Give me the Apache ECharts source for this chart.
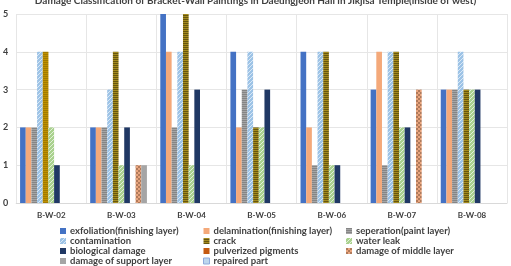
<!DOCTYPE html>
<html lang="en">
<head>
    <meta charset="UTF-8">
    <title>Damage Classification</title>
    <style>
        *{ margin: 0; padding: 0;}
        body{ background: #fff;}
        #chart{ width: 511px; height: 266px;}
    </style>
    <script src="https://cdn.jsdelivr.net/npm/echarts@6/dist/echarts.min.js"></script>
</head>
<body>
    <div id="chart"></div>
    <script>
        // 数据
        var categories = ['B-W-02', 'B-W-03', 'B-W-04', 'B-W-05', 'B-W-06', 'B-W-07', 'B-W-08'];
        var exfoliation = [2, 2, 5, 4, 4, 3, 3];
        var delamination = [2, 2, 4, 2, 2, 4, 3];
        var seperation = [2, 2, 2, 3, 1, 1, 3];
        var contamination = [4, 3, 4, 4, 4, 4, 4];
        var crack = [4, 4, 5, 2, 4, 4, 3];
        var waterLeak = [2, 1, 1, 2, 1, 2, 3];
        var biological = [1, 2, 3, 3, 1, 2, 3];
        var pulverized = [0, 0, 0, 0, 0, 0, 0];
        var middleLayer = [0, 1, 0, 0, 0, 3, 0];
        var supportLayer = [0, 1, 0, 0, 0, 0, 0];
        var repaired = [0, 0, 0, 0, 0, 0, 0];
        var yTicks = [0, 1, 2, 3, 4, 5];

        // 图案填充
        function pattern(bg, fg, type) {
            var c = document.createElement('canvas');
            c.width = 4; c.height = 4;
            var ctx = c.getContext('2d');
            ctx.fillStyle = bg;
            ctx.fillRect(0, 0, 4, 4);
            ctx.fillStyle = fg;
            if (type === 'h') {
                ctx.fillRect(0, 0, 4, 1);
                ctx.fillRect(0, 2, 4, 1);
            } else if (type === 'd') {
                for (var i = 0; i < 4; i++) ctx.fillRect((i + 1) % 4, 3 - i, 1, 1);
            } else if (type === 'c') {
                ctx.fillRect(0, 0, 2, 2);
                ctx.fillRect(2, 2, 2, 2);
            }
            return { image: c, repeat: 'repeat' };
        }

        var seriesDefs = [
            ['exfoliation(finishing layer)', exfoliation, '#4472c4'],
            ['delamination(finishing layer)', delamination, '#f4a97a'],
            ['seperation(paint layer)', seperation, pattern('#a5a5a5', '#858585', 'h')],
            ['contamination', contamination, pattern('#9dc3e6', '#d9e8f6', 'd')],
            ['crack', crack, pattern('#66560e', '#a38a1e', 'h')],
            ['water leak', waterLeak, pattern('#a9d18e', '#e2f0d9', 'd')],
            ['biological damage', biological, '#203864'],
            ['pulverized pigments', pulverized, '#c55a11'],
            ['damage of middle layer', middleLayer, pattern('#e9a57e', '#b07a5a', 'c')],
            ['damage of support layer', supportLayer, '#a5a5a5'],
            ['repaired part', repaired, '#bdd7ee']
        ];

        // 0 值不画柱子
        function noZero(arr) {
            return arr.map(function (v) { return v === 0 ? '-' : v; });
        }

        var series = seriesDefs.map(function (d) {
            return {
                name: d[0],
                type: 'bar',
                data: noZero(d[1]),
                barGap: 0,
                barCategoryGap: '11%',
                itemStyle: { color: d[2] }
            };
        });
        // B-W-02 的 crack 颜色偏金
        series[4].data = noZero(crack).map(function (v, i) {
            return i === 0 ? { value: v, itemStyle: { color: pattern('#c09000', '#a07a00', 'h') } } : v;
        });

        var legendText = { fontSize: 9.5, fontWeight: 'bold', color: '#404040', fontFamily: 'Lato', lineHeight: 10, padding: [0, 0, 0, -1] };
        function legendCol(left, idx) {
            return {
                orient: 'vertical', left: left, top: 226, height: 80, padding: 0,
                itemWidth: 6, itemHeight: 6, itemGap: 0,
                icon: 'rect', selectedMode: false, textStyle: legendText,
                data: idx.map(function (i) {
                    var name = seriesDefs[i][0];
                    if (name === 'repaired part') {
                        return { name: name, itemStyle: { borderColor: '#8faadc', borderWidth: 1 } };
                    }
                    return name;
                })
            };
        }

        var myChart = echarts.init(document.getElementById('chart'));
        myChart.setOption({
            animation: false,
            title: {
                text: 'Damage Classification of Bracket-Wall Paintings in Daeungjeon Hall in Jikjisa Temple(inside of west)',
                left: 'center', top: -9,
                textStyle: { fontSize: 10, fontWeight: 'bold', color: '#404040', fontFamily: 'Lato' }
            },
            legend: [legendCol(60, [0, 3, 6, 9]), legendCol(203, [1, 4, 7, 10]), legendCol(346, [2, 5, 8])],
            grid: { left: 16, right: 4, top: 14, bottom: 63 },
            xAxis: {
                type: 'category',
                data: categories,
                axisLine: { lineStyle: { color: '#d9d9d9' } },
                axisTick: { show: false },
                splitLine: { show: true, lineStyle: { color: '#e6e6e6' } },
                axisLabel: { fontSize: 8, fontWeight: 'bold', color: '#404040', fontFamily: 'Lato', margin: 8 }
            },
            yAxis: {
                type: 'value',
                min: yTicks[0], max: yTicks[yTicks.length - 1], interval: 1,
                axisLine: { show: false },
                axisTick: { show: false },
                splitLine: { lineStyle: { color: '#e6e6e6' } },
                axisLabel: { fontSize: 9, fontWeight: 'bold', color: '#404040', fontFamily: 'Lato', margin: 8 }
            },
            series: series
        });
    </script>
</body>
</html>
